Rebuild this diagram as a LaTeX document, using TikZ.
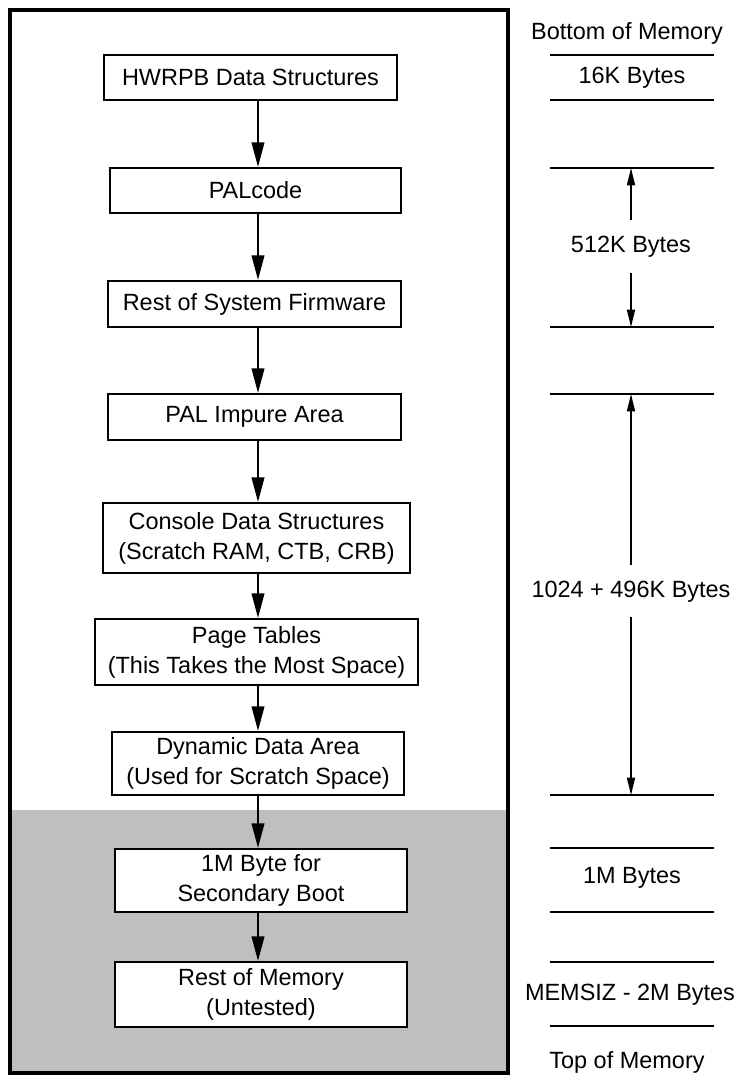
\documentclass[tikz,border=0pt]{standalone}
\usepackage{fontspec}
\setmainfont{Liberation Sans}
\usetikzlibrary{arrows.meta}
\begin{document}
\begin{tikzpicture}[x=0.75pt,y=-0.75pt,
  every node/.style={font=\fontsize{17.6}{22.5}\selectfont, align=center, inner sep=0pt},
  box/.style={draw, line width=1.6pt, fill=white},
  flow/.style={line width=1.5pt, -{Triangle[length=18.5pt,width=9.5pt]}},
  dim/.style={line width=1.1pt, -{Triangle[length=13pt,width=6pt]}},
  rule/.style={line width=1.6pt},
  frame/.style={line width=2.4pt}]
\useasboundingbox (0,0) rectangle (741,1076);

% shaded lower region of the memory frame
\fill[black!25] (10,810) rectangle (508,1073);
\draw[frame] (10,10) rectangle (508,1073);

% memory blocks
\node[box, minimum width=293*0.75pt, minimum height=45*0.75pt] (hwrpb) at (250.5,77.5) {HWRPB Data Structures};
\node[box, minimum width=291*0.75pt, minimum height=45*0.75pt] (pal) at (255.5,190.5) {PALcode};
\node[box, minimum width=293*0.75pt, minimum height=46*0.75pt] (fw) at (254.5,304) {Rest of System Firmware};
\node[box, minimum width=293*0.75pt, minimum height=46*0.75pt] (impure) at (254.5,417) {PAL Impure Area};
\node[box, minimum width=307*0.75pt, minimum height=70*0.75pt] (console) at (256.5,538) {Console Data Structures\\(Scratch RAM, CTB, CRB)};
\node[box, minimum width=323*0.75pt, minimum height=66*0.75pt] (ptab) at (256.5,652) {Page Tables\\(This Takes the Most Space)};
\node[box, minimum width=292*0.75pt, minimum height=63*0.75pt] (dyn) at (258,763.5) {Dynamic Data Area\\(Used for Scratch Space)};
\node[box, minimum width=292*0.75pt, minimum height=63*0.75pt] (boot) at (261,880.5) {1M Byte for\\Secondary Boot};
\node[box, minimum width=292*0.75pt, minimum height=65*0.75pt] (rest) at (261,994.5) {Rest of Memory\\(Untested)};

% flow arrows along a common vertical axis
\coordinate (ax) at (258,0);
\draw[flow] (hwrpb.south -| ax) -- (pal.north -| ax);
\draw[flow] (pal.south -| ax) -- (fw.north -| ax);
\draw[flow] (fw.south -| ax) -- (impure.north -| ax);
\draw[flow] (impure.south -| ax) -- (console.north -| ax);
\draw[flow] (console.south -| ax) -- (ptab.north -| ax);
\draw[flow] (ptab.south -| ax) -- (dyn.north -| ax);
\draw[flow] (dyn.south -| ax) -- (boot.north -| ax);
\draw[flow] (boot.south -| ax) -- (rest.north -| ax);

% size scale on the right
\foreach \yy in {55,100,168,327,394,795,848,912,962,1026}
  \draw[rule] (550,\yy) -- (714,\yy);

\node (bottom) at (627,33) {Bottom of Memory};
\node (s16k) at (632,78) {16K Bytes};
\node (s512k) at (631,247) {512K Bytes};
\node (s1520k) at (631,592) {1024 + 496K Bytes};
\node (s1m) at (632,878) {1M Bytes};
\node (smem) at (630,995) {MEMSIZ - 2M Bytes};
\node (top) at (627,1062) {Top of Memory};

\coordinate (a1t) at (631,220); \coordinate (a1h) at (631,168);
\coordinate (a2t) at (631,273); \coordinate (a2h) at (631,327);
\coordinate (b1t) at (631,565); \coordinate (b1h) at (631,394);
\coordinate (b2t) at (631,617); \coordinate (b2h) at (631,795);
\draw[dim] (a1t) -- (a1h);
\draw[dim] (a2t) -- (a2h);
\draw[dim] (b1t) -- (b1h);
\draw[dim] (b2t) -- (b2h);
\end{tikzpicture}
\end{document}
